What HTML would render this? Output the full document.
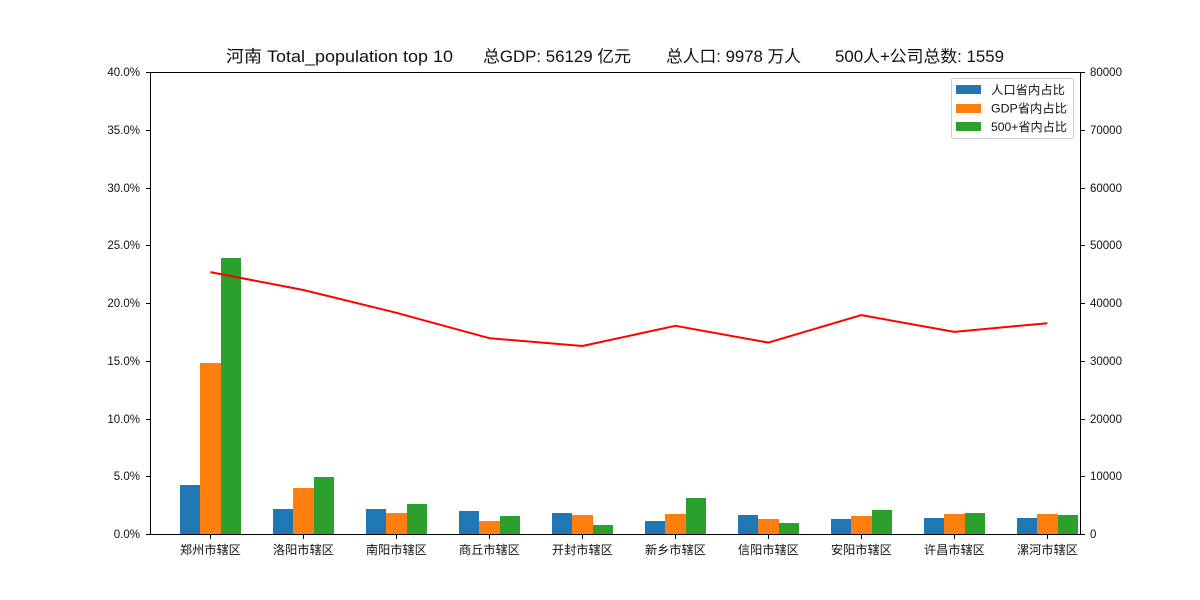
<!DOCTYPE html>
<html>
<head>
<meta charset="utf-8">
<style>
html,body{margin:0;padding:0;background:#fff;}
svg{display:block;}
text{font-family:"Liberation Sans","WenQuanYi Zen Hei","Noto Sans CJK SC",sans-serif;fill:#111;}
</style>
</head>
<body>
<svg id="chart" xmlns="http://www.w3.org/2000/svg" width="1200" height="600" viewBox="0 0 1200 600">
<rect x="0" y="0" width="1200" height="600" fill="#fff"/>
<g>
<text x="226" y="62" font-size="16.5" textLength="227" lengthAdjust="spacingAndGlyphs">河南 Total_population top 10</text>
<text x="483" y="62" font-size="16.5" textLength="148" lengthAdjust="spacingAndGlyphs">总GDP: 56129 亿元</text>
<text x="666" y="62" font-size="16.5" textLength="135" lengthAdjust="spacingAndGlyphs">总人口: 9978 万人</text>
<text x="835" y="62" font-size="16.5" textLength="169" lengthAdjust="spacingAndGlyphs">500人+公司总数: 1559</text>
</g>
<g id="bars"></g>
<g id="line"></g>
<g id="axes"></g>
<g>
<rect x="951.5" y="78.5" width="122" height="60" rx="2" ry="2" fill="#fff" fill-opacity="0.8" stroke="#ccc" stroke-width="1"/>
<rect x="956" y="85" width="25" height="9" fill="#1f77b4"/>
<text x="991" y="94" font-size="12" textLength="74" lengthAdjust="spacingAndGlyphs">人口省内占比</text>
<rect x="956" y="104" width="25" height="9" fill="#ff7f0e"/>
<text x="991" y="112.5" font-size="12" textLength="76" lengthAdjust="spacingAndGlyphs">GDP省内占比</text>
<rect x="956" y="122" width="25" height="9" fill="#2ca02c"/>
<text x="991" y="131" font-size="12" textLength="76" lengthAdjust="spacingAndGlyphs">500+省内占比</text>
</g>
</svg>
<script>
const categories = ['郑州市辖区','洛阳市辖区','南阳市辖区','商丘市辖区','开封市辖区','新乡市辖区','信阳市辖区','安阳市辖区','许昌市辖区','漯河市辖区'];
const populationShare = [4.2, 2.16, 2.16, 2.0, 1.8, 1.1, 1.65, 1.3, 1.38, 1.38];
const gdpShare = [14.8, 4.0, 1.8, 1.1, 1.65, 1.75, 1.3, 1.55, 1.73, 1.73];
const companyShare = [23.9, 4.9, 2.6, 1.55, 0.8, 3.1, 0.95, 2.05, 1.8, 1.65];
const lineValues = [45350, 42250, 38300, 33900, 32550, 36050, 33150, 37900, 35000, 36500];
const leftTicks = [0, 5, 10, 15, 20, 25, 30, 35, 40];
const rightTicks = [0, 10000, 20000, 30000, 40000, 50000, 60000, 70000, 80000];

const NS = 'http://www.w3.org/2000/svg';
const plotLeft = 150, plotRight = 1080, plotTop = 72, plotBottom = 534;
const groupStep = 93, firstCenter = 210.4, barWidth = 20.4;
function xScale(i){ return firstCenter + groupStep * i; }
function yLeft(v){ return plotBottom - (v / 40) * (plotBottom - plotTop); }
function yRight(v){ return plotBottom - (v / 80000) * (plotBottom - plotTop); }
function mk(tag, attrs){
  const el = document.createElementNS(NS, tag);
  for (const k in attrs) el.setAttribute(k, attrs[k]);
  return el;
}
const barsG = document.getElementById('bars');
const lineG = document.getElementById('line');
const axesG = document.getElementById('axes');

const barSeries = [
  {key:'population', values:populationShare, color:'#1f77b4', offset:-1},
  {key:'gdp', values:gdpShare, color:'#ff7f0e', offset:0},
  {key:'companies', values:companyShare, color:'#2ca02c', offset:1}
];
barSeries.forEach(function(s){
  s.values.forEach(function(v, i){
    const c = xScale(i) + s.offset * barWidth;
    const x0 = Math.round(c - barWidth / 2);
    const x1 = Math.round(c + barWidth / 2);
    const top = Math.round(yLeft(v));
    const r = mk('rect', {x:x0, y:top, width:x1 - x0, height:plotBottom - top, fill:s.color});
    
    
    barsG.appendChild(r);
  });
});

const pts = lineValues.map(function(v, i){ return xScale(i).toFixed(1) + ',' + yRight(v).toFixed(1); }).join(' ');
const poly = mk('polyline', {points:pts, fill:'none', stroke:'#ff0000', 'stroke-width':2, 'stroke-linejoin':'round'});


lineG.appendChild(poly);

const frame = mk('rect', {x:plotLeft + 0.5, y:plotTop + 0.5, width:plotRight - plotLeft, height:plotBottom - plotTop, fill:'none', stroke:'#000', 'stroke-width':1});


axesG.appendChild(frame);

leftTicks.forEach(function(v){
  const y = Math.round(yLeft(v)) + 0.5;
  const t = mk('line', {x1:plotLeft - 4, x2:plotLeft, y1:y, y2:y, stroke:'#000', 'stroke-width':1});
  
  
  axesG.appendChild(t);
  const l = mk('text', {x:140, y:y + 3.5, 'font-size':11.5, 'text-anchor':'end'});
  
  
  l.textContent = v.toFixed(1) + '%';
  axesG.appendChild(l);
});
rightTicks.forEach(function(v){
  const y = Math.round(yRight(v)) + 0.5;
  const t = mk('line', {x1:plotRight + 1, x2:plotRight + 5, y1:y, y2:y, stroke:'#000', 'stroke-width':1});
  
  
  axesG.appendChild(t);
  const l = mk('text', {x:1090, y:y + 3.5, 'font-size':11.5});
  
  
  l.textContent = String(v);
  axesG.appendChild(l);
});
categories.forEach(function(c, i){
  const x = xScale(i);
  const t = mk('line', {x1:Math.round(x) + 0.5, x2:Math.round(x) + 0.5, y1:plotBottom + 1, y2:plotBottom + 5, stroke:'#000', 'stroke-width':1});
  
  
  axesG.appendChild(t);
  const l = mk('text', {x:x, y:554, 'font-size':12.2, 'text-anchor':'middle'});
  
  
  l.textContent = c;
  axesG.appendChild(l);
});
</script>
</body>
</html>
